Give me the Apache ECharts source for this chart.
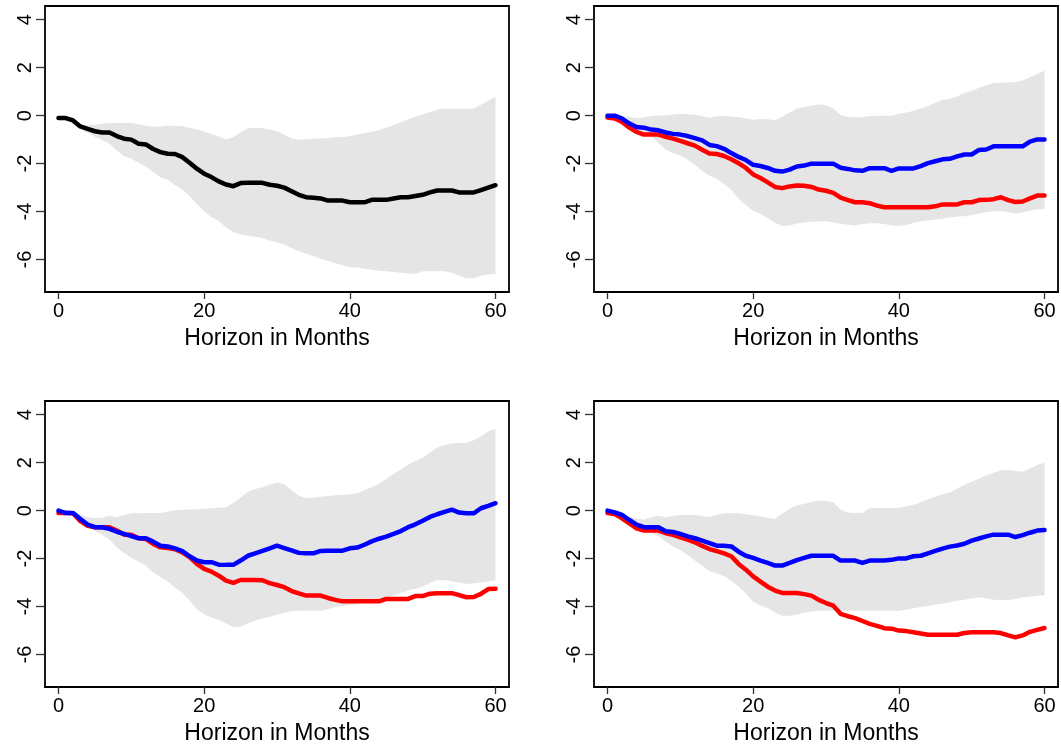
<!DOCTYPE html>
<html>
<head>
<meta charset="utf-8">
<title>Impulse responses</title>
<script src="https://cdn.jsdelivr.net/npm/echarts@6/dist/echarts.min.js"></script>
<style>
  html, body { margin: 0; padding: 0; background: #fff; }
  #chart { width: 1061px; height: 747px; }
</style>
</head>
<body>
<div id="chart"></div>
<script>
// Horizon (months) shared by all four panels
const months = [0,1,2,3,4,5,6,7,8,9,10,11,12,13,14,15,16,17,18,19,20,
  21,22,23,24,25,26,27,28,29,30,31,32,33,34,35,36,37,38,39,40,
  41,42,43,44,45,46,47,48,49,50,51,52,53,54,55,56,57,58,59,60];
const xTicks = [0, 20, 40, 60];
const yTicks = [-6, -4, -2, 0, 2, 4];

// Panel 1: baseline response with its confidence band
const p1Line = [-0.1,-0.1,-0.2,-0.45,-0.55,-0.65,-0.7,-0.7,-0.85,-0.96,-1.0,-1.17,-1.2,-1.39,-1.52,-1.59,-1.6,-1.73,-1.96,-2.21,-2.42,
  -2.56,-2.74,-2.87,-2.94,-2.81,-2.8,-2.8,-2.8,-2.88,-2.92,-3.0,-3.15,-3.3,-3.4,-3.42,-3.45,-3.54,-3.54,-3.54,-3.61,
  -3.61,-3.61,-3.51,-3.51,-3.51,-3.45,-3.4,-3.4,-3.35,-3.3,-3.2,-3.12,-3.12,-3.12,-3.2,-3.2,-3.2,-3.1,-3.0,-2.9];
const p1Upper = [-0.1,-0.1,-0.3,-0.4,-0.4,-0.38,-0.33,-0.31,-0.31,-0.31,-0.31,-0.36,-0.42,-0.46,-0.45,-0.42,-0.42,-0.44,-0.5,-0.58,-0.66,
  -0.76,-0.87,-0.99,-0.89,-0.7,-0.52,-0.5,-0.53,-0.58,-0.65,-0.8,-0.95,-1.0,-0.98,-0.96,-0.95,-0.93,-0.9,-0.89,-0.86,
  -0.79,-0.72,-0.68,-0.6,-0.5,-0.4,-0.28,-0.16,-0.05,0.05,0.15,0.25,0.29,0.29,0.29,0.29,0.3,0.45,0.62,0.78];
const p1Lower = [-0.1,-0.12,-0.35,-0.56,-0.7,-0.88,-1.02,-1.17,-1.45,-1.68,-1.8,-1.96,-2.12,-2.35,-2.57,-2.67,-2.9,-3.08,-3.35,-3.68,-3.98,
  -4.22,-4.4,-4.65,-4.86,-4.95,-5.0,-5.05,-5.1,-5.2,-5.28,-5.38,-5.52,-5.65,-5.76,-5.86,-5.96,-6.06,-6.15,-6.24,-6.32,
  -6.33,-6.38,-6.42,-6.46,-6.49,-6.52,-6.55,-6.58,-6.6,-6.49,-6.49,-6.49,-6.49,-6.55,-6.67,-6.78,-6.78,-6.67,-6.62,-6.6];

// Panel 2
const p2Blue = [0,0,-0.12,-0.33,-0.47,-0.5,-0.58,-0.61,-0.7,-0.76,-0.79,-0.85,-0.94,-1.03,-1.22,-1.27,-1.38,-1.56,-1.72,-1.85,-2.05,
  -2.1,-2.18,-2.3,-2.33,-2.25,-2.12,-2.08,-2.0,-2.0,-2.0,-2.0,-2.17,-2.22,-2.28,-2.3,-2.19,-2.19,-2.19,-2.3,-2.2,
  -2.2,-2.2,-2.1,-1.98,-1.9,-1.82,-1.8,-1.7,-1.62,-1.62,-1.43,-1.41,-1.28,-1.28,-1.28,-1.28,-1.28,-1.08,-0.99,-0.99];
const p2Red = [-0.08,-0.12,-0.26,-0.5,-0.68,-0.79,-0.79,-0.79,-0.88,-0.96,-1.05,-1.15,-1.25,-1.42,-1.58,-1.6,-1.68,-1.82,-1.98,-2.18,-2.45,
  -2.6,-2.78,-2.97,-3.02,-2.95,-2.91,-2.92,-2.97,-3.08,-3.13,-3.22,-3.42,-3.52,-3.61,-3.61,-3.65,-3.75,-3.82,-3.82,-3.82,
  -3.82,-3.82,-3.82,-3.82,-3.78,-3.7,-3.7,-3.7,-3.61,-3.61,-3.52,-3.51,-3.48,-3.4,-3.52,-3.6,-3.58,-3.45,-3.33,-3.33];
const p2Upper = [0,0,-0.01,-0.05,-0.11,-0.08,-0.01,0,0.02,0.05,0.08,0.06,0.04,-0.03,-0.09,-0.03,-0.01,-0.04,-0.07,-0.12,-0.17,
  -0.14,-0.15,-0.19,-0.05,0.13,0.3,0.36,0.41,0.47,0.43,0.3,0.03,-0.05,-0.07,-0.07,-0.01,0,0,0,0.08,
  0.13,0.19,0.3,0.4,0.53,0.66,0.7,0.8,0.95,1.03,1.16,1.27,1.36,1.37,1.38,1.4,1.47,1.6,1.74,1.87];
const p2Lower = [-0.08,-0.1,-0.22,-0.38,-0.55,-0.68,-0.85,-1.15,-1.42,-1.56,-1.66,-1.83,-2.05,-2.3,-2.5,-2.63,-2.85,-3.1,-3.46,-3.72,-3.97,
  -4.1,-4.27,-4.46,-4.6,-4.58,-4.5,-4.45,-4.42,-4.41,-4.4,-4.45,-4.51,-4.55,-4.58,-4.52,-4.48,-4.48,-4.52,-4.58,-4.6,
  -4.56,-4.47,-4.4,-4.36,-4.33,-4.3,-4.24,-4.2,-4.19,-4.14,-4.09,-4.03,-3.98,-3.98,-4.02,-4.08,-4.04,-3.96,-3.9,-3.89];

// Panel 3
const p3Blue = [0,-0.1,-0.1,-0.35,-0.58,-0.69,-0.69,-0.76,-0.88,-0.97,-1.06,-1.15,-1.15,-1.29,-1.46,-1.49,-1.57,-1.69,-1.9,-2.08,-2.15,
  -2.15,-2.25,-2.26,-2.26,-2.08,-1.88,-1.78,-1.68,-1.57,-1.46,-1.56,-1.66,-1.76,-1.78,-1.78,-1.68,-1.67,-1.67,-1.67,-1.57,
  -1.54,-1.42,-1.28,-1.17,-1.08,-0.97,-0.85,-0.69,-0.57,-0.42,-0.26,-0.15,-0.05,0.04,-0.08,-0.11,-0.11,0.1,0.2,0.31];
const p3Red = [-0.1,-0.1,-0.11,-0.44,-0.63,-0.69,-0.69,-0.69,-0.83,-1.0,-1.0,-1.15,-1.18,-1.39,-1.53,-1.56,-1.61,-1.74,-1.94,-2.22,-2.43,
  -2.54,-2.71,-2.92,-3.01,-2.89,-2.89,-2.89,-2.9,-3.02,-3.1,-3.19,-3.35,-3.45,-3.54,-3.54,-3.54,-3.64,-3.72,-3.78,-3.78,
  -3.78,-3.78,-3.78,-3.78,-3.68,-3.68,-3.68,-3.68,-3.56,-3.56,-3.46,-3.44,-3.44,-3.44,-3.52,-3.61,-3.6,-3.47,-3.27,-3.26];
const p3Upper = [0,0.05,-0.02,-0.17,-0.28,-0.31,-0.3,-0.21,-0.28,-0.18,-0.11,-0.11,-0.1,-0.1,-0.1,-0.05,0.02,0.04,0.05,0.06,0.08,
  0.1,0.12,0.14,0.32,0.55,0.78,0.9,0.98,1.08,1.18,1.1,0.85,0.62,0.52,0.55,0.58,0.61,0.64,0.66,0.68,
  0.72,0.85,0.98,1.12,1.32,1.53,1.72,1.92,2.07,2.2,2.42,2.63,2.73,2.81,2.82,2.82,2.93,3.1,3.3,3.4];
const p3Lower = [-0.1,-0.05,-0.2,-0.42,-0.64,-0.85,-1.0,-1.2,-1.53,-1.76,-1.96,-2.12,-2.3,-2.58,-2.78,-2.95,-3.2,-3.42,-3.75,-4.1,-4.32,
  -4.45,-4.56,-4.7,-4.86,-4.84,-4.7,-4.58,-4.5,-4.42,-4.34,-4.26,-4.18,-4.17,-4.17,-4.17,-4.17,-4.1,-4.02,-3.97,-3.93,
  -3.9,-3.84,-3.78,-3.72,-3.63,-3.54,-3.43,-3.33,-3.25,-3.17,-3.02,-2.89,-2.9,-2.94,-3.0,-3.06,-3.03,-2.99,-2.95,-2.9];

// Panel 4
const p4Blue = [0,-0.07,-0.18,-0.39,-0.58,-0.69,-0.69,-0.69,-0.86,-0.89,-0.97,-1.07,-1.15,-1.25,-1.35,-1.46,-1.46,-1.49,-1.71,-1.88,-1.97,
  -2.08,-2.18,-2.29,-2.29,-2.18,-2.06,-1.97,-1.88,-1.88,-1.88,-1.88,-2.08,-2.08,-2.08,-2.18,-2.08,-2.08,-2.08,-2.05,-1.99,
  -1.99,-1.9,-1.88,-1.78,-1.68,-1.58,-1.5,-1.45,-1.38,-1.25,-1.16,-1.07,-1.0,-1.0,-1.0,-1.1,-1.02,-0.92,-0.83,-0.81];
const p4Red = [-0.1,-0.14,-0.32,-0.53,-0.74,-0.83,-0.83,-0.83,-0.94,-1.01,-1.11,-1.21,-1.32,-1.47,-1.6,-1.69,-1.78,-1.9,-2.22,-2.46,-2.74,
  -2.96,-3.17,-3.33,-3.43,-3.43,-3.43,-3.48,-3.54,-3.72,-3.85,-3.96,-4.3,-4.4,-4.48,-4.6,-4.72,-4.8,-4.9,-4.92,-5.0,
  -5.02,-5.07,-5.12,-5.17,-5.17,-5.17,-5.17,-5.17,-5.1,-5.07,-5.07,-5.07,-5.07,-5.1,-5.2,-5.28,-5.2,-5.05,-4.97,-4.89];
const p4Upper = [0,-0.03,-0.12,-0.24,-0.33,-0.38,-0.28,-0.21,-0.27,-0.21,-0.18,-0.18,-0.18,-0.22,-0.26,-0.18,-0.11,-0.11,-0.11,-0.15,-0.19,
  -0.24,-0.3,-0.35,-0.12,0.08,0.22,0.28,0.36,0.42,0.4,0.35,0.05,-0.08,-0.1,-0.1,0.11,0.11,0.11,0.11,0.11,
  0.18,0.25,0.35,0.47,0.58,0.68,0.76,0.92,1.08,1.2,1.33,1.46,1.58,1.68,1.69,1.65,1.62,1.76,1.9,2.01];
const p4Lower = [-0.1,-0.08,-0.26,-0.4,-0.62,-0.85,-0.92,-1.05,-1.3,-1.48,-1.64,-1.85,-2.08,-2.3,-2.52,-2.62,-2.72,-2.92,-3.16,-3.45,-3.8,
  -3.95,-4.06,-4.24,-4.38,-4.38,-4.33,-4.24,-4.2,-4.17,-4.17,-4.17,-4.17,-4.17,-4.17,-4.17,-4.17,-4.17,-4.17,-4.17,-4.17,
  -4.13,-4.07,-4.02,-3.97,-3.92,-3.87,-3.82,-3.76,-3.71,-3.66,-3.61,-3.66,-3.71,-3.72,-3.72,-3.68,-3.62,-3.58,-3.55,-3.53];

const FONT = "'Liberation Sans', Arial, Helvetica, sans-serif";
const BAND = '#e5e5e5';

const panels = [
  { left: 45,  top: 6,   lines: [{ d: p1Line, c: '#000000' }], upper: p1Upper, lower: p1Lower },
  { left: 594, top: 6,   lines: [{ d: p2Red, c: '#ff0000' }, { d: p2Blue, c: '#0000ff' }], upper: p2Upper, lower: p2Lower },
  { left: 45,  top: 401, lines: [{ d: p3Red, c: '#ff0000' }, { d: p3Blue, c: '#0000ff' }], upper: p3Upper, lower: p3Lower },
  { left: 594, top: 401, lines: [{ d: p4Red, c: '#ff0000' }, { d: p4Blue, c: '#0000ff' }], upper: p4Upper, lower: p4Lower }
];

const pairs = (ys) => months.map((m, i) => [m, ys[i]]);

// Shaded band as one polygon: upper edge left-to-right, lower edge back
function bandRenderer(upper, lower) {
  return function (params, api) {
    if (params.dataIndex !== 0) return null;
    const pts = [];
    months.forEach((m, i) => pts.push(api.coord([m, upper[i]])));
    for (let i = months.length - 1; i >= 0; i--) pts.push(api.coord([months[i], lower[i]]));
    return { type: 'polygon', shape: { points: pts }, style: { fill: BAND, stroke: null } };
  };
}

const grids = [], xAxes = [], yAxes = [], series = [];
panels.forEach((p, k) => {
  grids.push({
    left: p.left, top: p.top, width: 464, height: 286,
    show: true, borderColor: '#000', borderWidth: 1.8, backgroundColor: 'transparent'
  });
  xAxes.push({
    type: 'value', gridIndex: k, min: -1.85, max: 61.85,
    name: 'Horizon in Months', nameLocation: 'middle', nameGap: 35,
    nameTextStyle: { fontFamily: FONT, fontSize: 23, color: '#000' },
    axisLine: { show: false, onZero: false },
    axisTick: { show: true, length: 7, customValues: xTicks, lineStyle: { color: '#333', width: 1.3 } },
    axisLabel: { customValues: xTicks, fontFamily: FONT, fontSize: 20, color: '#000', margin: 9 },
    splitLine: { show: false }
  });
  yAxes.push({
    type: 'value', gridIndex: k, min: -7.35, max: 4.57,
    axisLine: { show: false, onZero: false },
    axisTick: { show: true, length: 9, customValues: yTicks, lineStyle: { color: '#333', width: 1.3 } },
    axisLabel: { customValues: yTicks, rotate: 90, fontFamily: FONT, fontSize: 20, color: '#000', margin: 10 },
    splitLine: { show: false }
  });
  series.push({
    type: 'custom', xAxisIndex: k, yAxisIndex: k, silent: true,
    data: pairs(p.upper), encode: { x: 0, y: 1 },
    renderItem: bandRenderer(p.upper, p.lower)
  });
  p.lines.forEach((l) => {
    series.push({
      type: 'line', xAxisIndex: k, yAxisIndex: k, data: pairs(l.d),
      symbol: 'none', silent: true,
      lineStyle: { color: l.c, width: 4.5, cap: 'round', join: 'round' }
    });
  });
});

const chart = echarts.init(document.getElementById('chart'), null, { renderer: 'canvas' });
chart.setOption({
  animation: false,
  backgroundColor: '#ffffff',
  grid: grids, xAxis: xAxes, yAxis: yAxes, series: series
});
</script>
</body>
</html>
